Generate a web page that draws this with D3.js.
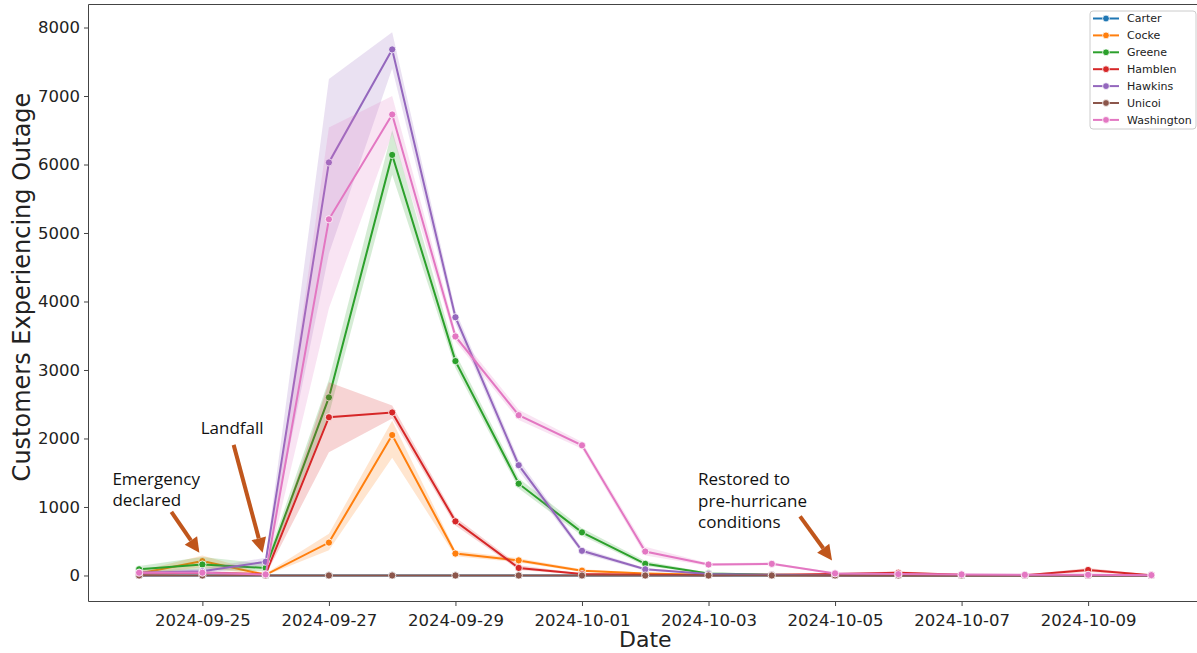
<!DOCTYPE html>
<html>
<head>
<meta charset="utf-8">
<script src="https://cdn.jsdelivr.net/npm/d3@7"></script>
<style>
  html, body { margin: 0; padding: 0; background: #fff; }
  svg { display: block; }
</style>
</head>
<body>
<script>
// ---------- data ----------
const dates = ["2024-09-24","2024-09-25","2024-09-26","2024-09-27","2024-09-28","2024-09-29","2024-09-30",
  "2024-10-01","2024-10-02","2024-10-03","2024-10-04","2024-10-05","2024-10-06","2024-10-07","2024-10-08","2024-10-09","2024-10-10"];
const counties = ["Carter","Cocke","Greene","Hamblen","Hawkins","Unicoi","Washington"];
const colors = ["#1f77b4","#ff7f0e","#2ca02c","#d62728","#9467bd","#8c564b","#e377c2"];

const carter   = [0,0,0,0,0,0,0,0,0,0,0,0,0,0,0,0,0];
const carterLo = [0,0,0,0,0,0,0,0,0,0,0,0,0,0,0,0,0];
const carterHi = [0,0,0,0,0,0,0,0,0,0,0,0,0,0,0,0,0];

const cocke    = [30,210,10,480,2050,320,220,70,30,10,5,5,0,0,0,0,0];
const cockeLo  = [10,120,0,370,1720,280,190,50,20,5,0,0,0,0,0,0,0];
const cockeHi  = [60,290,30,610,2260,360,250,90,40,15,10,10,0,0,0,0,0];

const greene   = [90,160,110,2600,6140,3130,1340,630,170,30,10,5,0,0,0,0,0];
const greeneLo = [40,80,60,2350,5850,3030,1270,580,140,20,5,0,0,0,0,0,0];
const greeneHi = [140,270,170,2860,6500,3240,1420,690,210,40,15,10,0,0,0,0,0];

const hamblen   = [30,40,20,2310,2380,790,110,20,10,5,10,20,40,10,5,80,5];
const hamblenLo = [10,20,5,1800,2290,730,80,10,5,0,5,10,20,5,0,50,0];
const hamblenHi = [50,60,40,2820,2480,850,150,30,20,10,15,30,60,15,10,110,10];

const hawkins   = [40,60,200,6030,7680,3770,1610,360,90,20,10,0,0,0,0,0,0];
const hawkinsLo = [20,30,150,4700,7400,3680,1530,320,70,10,5,0,0,0,0,0,0];
const hawkinsHi = [60,100,260,7250,7930,3870,1690,400,110,30,15,5,0,0,0,0,0];

const unicoi   = [0,0,0,0,0,0,0,0,0,0,0,0,0,0,0,0,0];
const unicoiLo = [0,0,0,0,0,0,0,0,0,0,0,0,0,0,0,0,0];
const unicoiHi = [0,0,0,0,0,0,0,0,0,0,0,0,0,0,0,0,0];

const washington   = [40,40,15,5200,6730,3490,2340,1900,350,160,170,30,20,15,10,10,5];
const washingtonLo = [20,20,5,3900,6450,3420,2270,1850,290,140,150,20,10,5,0,0,0];
const washingtonHi = [70,70,30,6540,7000,3570,2420,1950,420,180,190,45,30,25,20,20,10];

const xTickLabels = ["2024-09-25","2024-09-27","2024-09-29","2024-10-01","2024-10-03","2024-10-05","2024-10-07","2024-10-09"];
const yTickValues = [0,1000,2000,3000,4000,5000,6000,7000,8000];

const seriesValues = [carter,cocke,greene,hamblen,hawkins,unicoi,washington];
const seriesLo = [carterLo,cockeLo,greeneLo,hamblenLo,hawkinsLo,unicoiLo,washingtonLo];
const seriesHi = [carterHi,cockeHi,greeneHi,hamblenHi,hawkinsHi,unicoiHi,washingtonHi];

// annotations: [text lines, target date, target value]
const annotations = [
  {lines:["Emergency","declared"], date:"2024-09-25", value:330},
  {lines:["Landfall"], date:"2024-09-26", value:330},
  {lines:["Restored to","pre-hurricane","conditions"], date:"2024-10-05", value:220}
];

// ---------- layout ----------
const W = 1197, H = 653;
const parse = d3.utcParse("%Y-%m-%d");
const DAY = 864e5;

const svg = d3.select("body").append("svg").attr("width", W).attr("height", H);

const pLeft = 88.5, pRight = 1202, pTop = 4.5, pBottom = 601.5;
const x = d3.scaleUtc()
  .domain([new Date(+parse(dates[0]) - 0.8*DAY), new Date(+parse(dates[dates.length-1]) + 0.8*DAY)])
  .range([pLeft, pRight]);
const y = d3.scaleLinear().domain([-380, 8336]).range([pBottom, pTop]);

const font = "DejaVu Sans, sans-serif";

// series
const g = svg.append("g");
seriesValues.forEach((vals, i) => {
  const pts = dates.map((d, j) => ({d: parse(d), v: vals[j], lo: seriesLo[i][j], hi: seriesHi[i][j]}));
  const area = d3.area().x(p => x(p.d)).y0(p => y(p.lo)).y1(p => y(p.hi));
  const line = d3.line().x(p => x(p.d)).y(p => y(p.v));
  g.append("path").attr("d", area(pts)).attr("fill", colors[i]).attr("fill-opacity", 0.2).attr("stroke", "none");
  g.append("path").attr("d", line(pts)).attr("fill", "none").attr("stroke", colors[i]).attr("stroke-width", 2);
  g.selectAll(null).data(pts).enter().append("circle")
    .attr("cx", p => x(p.d)).attr("cy", p => y(p.v)).attr("r", 3.6)
    .attr("fill", colors[i]).attr("stroke", "#fff").attr("stroke-width", 0.8);
});

// axes
const xAxis = d3.axisBottom(x).tickValues(xTickLabels.map(parse)).tickFormat(d3.utcFormat("%Y-%m-%d")).tickSize(4.5).tickPadding(5);
const yAxis = d3.axisLeft(y).tickValues(yTickValues).tickFormat(d3.format("d")).tickSize(4.5).tickPadding(4);

const xa = svg.append("g").attr("transform", `translate(0,${pBottom})`).call(xAxis);
const ya = svg.append("g").attr("transform", `translate(${pLeft},0)`).call(yAxis);
[xa, ya].forEach(a => {
  a.select(".domain").remove();
  a.selectAll(".tick line").attr("stroke", "#444").attr("stroke-width", 1);
  a.selectAll(".tick text").attr("fill", "#222").style("font-family", font).style("font-size", "16.5px");
});
xa.selectAll(".tick text").attr("dy", "0.9em");

// spines
svg.append("line").attr("x1", pLeft).attr("x2", pLeft).attr("y1", pTop).attr("y2", pBottom).attr("stroke", "#444");
svg.append("line").attr("x1", pLeft).attr("x2", W).attr("y1", pBottom).attr("y2", pBottom).attr("stroke", "#444");
svg.append("line").attr("x1", pLeft).attr("x2", W).attr("y1", pTop).attr("y2", pTop).attr("stroke", "#444");

// axis labels
svg.append("text").attr("x", (pLeft + pRight) / 2).attr("y", 647).attr("text-anchor", "middle")
  .style("font-family", font).style("font-size", "22px").attr("fill", "#222").text("Date");
svg.append("text").attr("transform", `translate(30,287) rotate(-90)`).attr("text-anchor", "middle")
  .style("font-family", font).style("font-size", "24px").attr("fill", "#222").text("Customers Experiencing Outage");

// legend
const lg = svg.append("g").attr("transform", "translate(1090,11)");
lg.append("rect").attr("x", 0).attr("y", 0).attr("width", 106).attr("height", 118).attr("rx", 3)
  .attr("fill", "#fff").attr("fill-opacity", 0.85).attr("stroke", "#ccc");
counties.forEach((c, i) => {
  const yy = 7.5 + i * 16.9;
  lg.append("line").attr("x1", 3).attr("x2", 29).attr("y1", yy).attr("y2", yy).attr("stroke", colors[i]).attr("stroke-width", 2);
  lg.append("circle").attr("cx", 16).attr("cy", yy).attr("r", 3.4).attr("fill", colors[i]).attr("stroke", "#fff").attr("stroke-width", 0.8);
  lg.append("text").attr("x", 37).attr("y", yy).attr("dy", "0.35em").style("font-family", font).style("font-size", "11px")
    .attr("fill", "#222").text(c);
});

// annotations
const arrowColor = "#c0561c";
const annFont = "'Open Sans', sans-serif";
function arrow(x1, y1, x2, y2) {
  const ang = Math.atan2(y2 - y1, x2 - x1);
  const hl = 15, hw = 7.5;
  const bx = x2 - hl * Math.cos(ang), by = y2 - hl * Math.sin(ang);
  svg.append("line").attr("x1", x1).attr("y1", y1).attr("x2", bx).attr("y2", by)
    .attr("stroke", arrowColor).attr("stroke-width", 4);
  const px = -Math.sin(ang), py = Math.cos(ang);
  svg.append("path").attr("d", `M${x2},${y2}L${bx + hw*px},${by + hw*py}L${bx - hw*px},${by - hw*py}Z`).attr("fill", arrowColor);
}
const annText = [
  {dx: -87, dy: -68, tail: [-28, -41]},
  {dx: -62, dy: -119, tail: [-29, -108]},
  {dx: -134, dy: -75, tail: [-32, -44]}
];
annotations.forEach((a, i) => {
  const tx = x(parse(a.date)) - 3, ty = y(a.value);
  const o = annText[i];
  const t = svg.append("text").style("font-family", annFont).style("font-size", "17px").attr("fill", "#111");
  a.lines.forEach((ln, k) => {
    t.append("tspan").attr("x", tx + o.dx).attr("y", ty + o.dy + k * 21.5).text(ln);
  });
  arrow(tx + o.tail[0], ty + o.tail[1], tx, ty);
});
</script>
</body>
</html>
